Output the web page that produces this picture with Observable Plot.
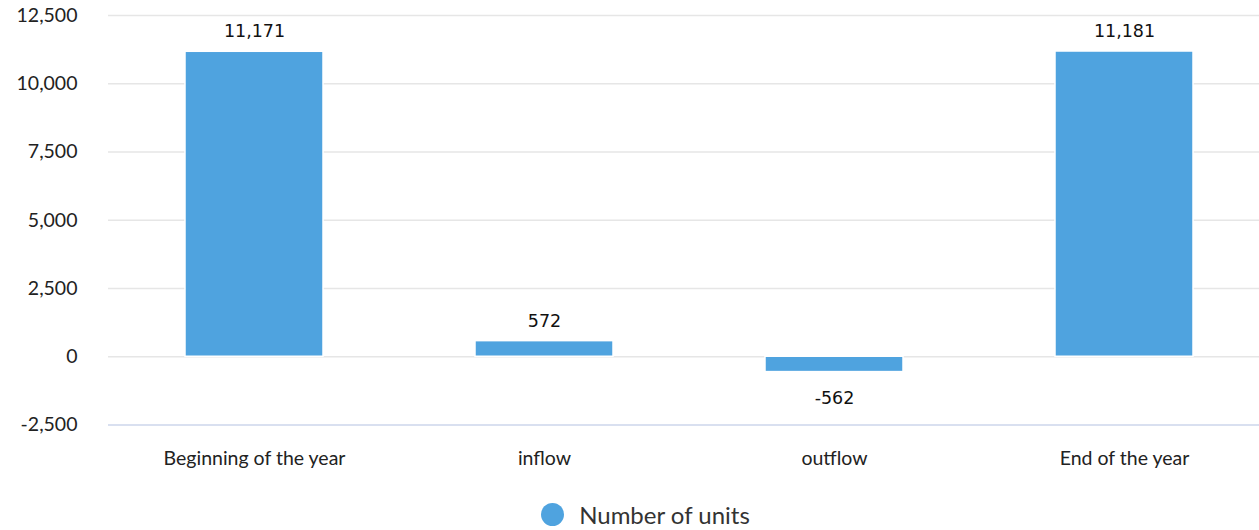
<!DOCTYPE html>
<html>
<head>
<meta charset="utf-8">
<script src="https://cdn.jsdelivr.net/npm/d3@7"></script>
<script src="https://cdn.jsdelivr.net/npm/@observablehq/plot@0.6"></script>
<style>
  html, body { margin: 0; padding: 0; background: #fff; }
  #chart { width: 1259px; }
  .legend { display: flex; justify-content: center; align-items: center; gap: 15px;
            font-family: Lato, "Noto Sans", sans-serif; font-size: 24px; color: #333;
            height: 25px; line-height: 25px; margin-top: 17px; padding-left: 32px; }
  .legend .dot { width: 23px; height: 23px; border-radius: 50%; background: #4fa3df; display: inline-block; }
</style>
</head>
<body>
<div id="chart"></div>
<script>
// Number of units over the year
const categories = ["Beginning of the year", "inflow", "outflow", "End of the year"];
const units = [11171, 572, -562, 11181];
const yTicks = [-2500, 0, 2500, 5000, 7500, 10000, 12500];
const seriesName = "Number of units";

const rows = categories.map((c, i) => ({category: c, value: units[i]}));
// thousands separator with a plain hyphen for negatives
const fmt = v => d3.format(",")(v).replace("\u2212", "-");
const barColor = "#4fa3df";
const labelFont = "'DejaVu Sans', sans-serif";

const chart = Plot.plot({
  width: 1259,
  height: 485,
  marginTop: 15,
  marginBottom: 60.5,
  marginLeft: 108,
  marginRight: 0,
  style: {fontFamily: "Lato, 'Noto Sans', sans-serif", fontSize: "19.5px", color: "#222", background: "#fff"},
  // the category bands run a little past the right edge of the frame
  x: {domain: categories, range: [107.3, 1270.5], paddingInner: 0.523, paddingOuter: 0.2615,
      label: null, tickSize: 0, tickPadding: 26},
  y: {domain: [-2500, 12500], ticks: yTicks, tickFormat: fmt, label: null, tickSize: 0, tickPadding: 31},
  marks: [
    Plot.ruleY(yTicks.filter(t => t > -2500), {stroke: "#e6e6e6", strokeWidth: 1.3}),
    Plot.ruleY([-2500], {stroke: "#ccd6eb", strokeWidth: 1.5}),
    Plot.barY(rows, {x: "category", y: "value", fill: barColor, stroke: "#fff", strokeWidth: 1.5}),
    Plot.text(rows.filter(d => d.value >= 0), {x: "category", y: "value", text: d => fmt(d.value),
      dy: -20, fill: "#111", fontFamily: labelFont, fontSize: 17.5}),
    Plot.text(rows.filter(d => d.value < 0), {x: "category", y: "value", text: d => fmt(d.value),
      dy: 26, fill: "#111", fontFamily: labelFont, fontSize: 17.5})
  ]
});
document.getElementById("chart").appendChild(chart);

const legend = document.createElement("div");
legend.className = "legend";
legend.innerHTML = `<span class="dot"></span><span>${seriesName}</span>`;
document.getElementById("chart").appendChild(legend);
</script>
</body>
</html>
